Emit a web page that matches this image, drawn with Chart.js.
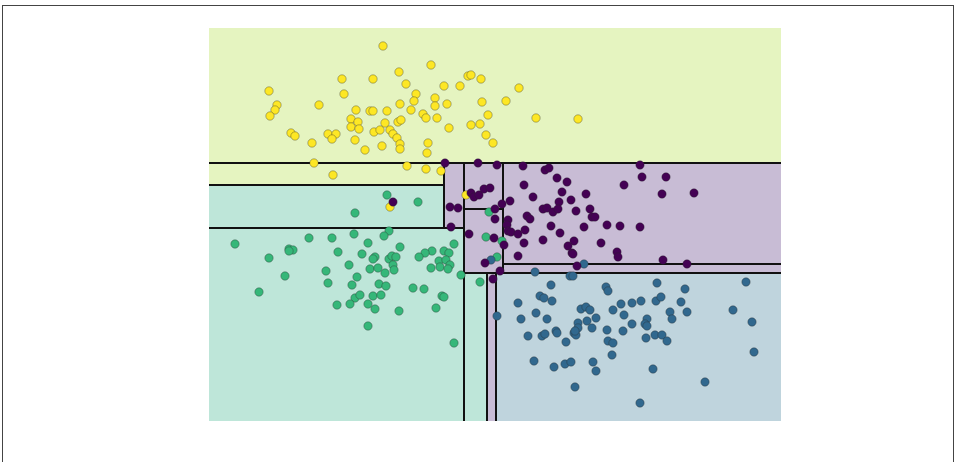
<!DOCTYPE html>
<html>
<head>
<meta charset="utf-8">
<script src="https://cdn.jsdelivr.net/npm/chart.js@4.4.1/dist/chart.umd.min.js"></script>
<style>
  html,body{margin:0;padding:0;background:#fff;}
  #wrap{position:relative;width:957px;height:462px;}
  #frame{position:absolute;left:2px;top:5px;width:952px;height:470px;border:1px solid #444;box-sizing:border-box;pointer-events:none;}
</style>
</head>
<body>
<div id="wrap">
  <canvas id="chart"></canvas>
  <div id="frame"></div>
</div>
<script>
// Feature space limits (arbitrary units)
const xRange = [0, 572];
const yRange = [0, 393];

// Four classes of points [x, y]
const class0 = [ // purple
  [236,258],[269,258],[262,228],[265,224],[270,226],[275,232],[281,233],[184,219],[241,214],[249,213],
  [242,194],[260,187],[276,158],[284,142],[285,183],[286,212],[286,202],
  [288,256],[314,255],[336,251],[340,253],[348,243],[358,239],[315,236],[415,236],[353,229],[377,227],
  [324,224],[301,220],[293,217],[350,219],[362,221],[334,212],[338,213],[344,209],[349,212],[367,210],
  [381,212],[383,204],[386,204],[318,205],[321,202],[299,201],[298,196],[299,190],[302,189],[309,187],
  [316,191],[342,195],[351,188],[375,194],[398,196],[411,195],[431,194],[295,176],[315,178],[334,181],
  [365,180],[359,175],[392,178],[363,168],[364,167],[408,169],[409,164],[309,165],[368,155],[291,150],
  [431,256],[433,244],[457,244],[453,227],[485,228],[454,161],[478,157]
];
const class1 = [ // blue
  [282,161],[375,157],[326,149],[361,145],[364,145],[342,136],[397,134],[399,130],[448,138],[476,132],[537,139],
  [288,105],[309,118],[331,125],[335,123],[343,120],[312,102],[327,108],[338,102],[372,112],[377,114],
  [381,111],[404,111],[412,117],[423,118],[415,106],[387,103],[378,100],[369,98],[369,93],[383,93],
  [319,85],[333,85],[336,87],[347,90],[348,88],[365,88],[367,86],[366,90],[357,79],[398,91],[399,80],
  [404,78],[414,90],[423,97],[403,66],[325,60],[345,54],[356,57],[362,59],[384,59],[387,50],[366,34],
  [432,120],[447,120],[452,124],[472,119],[461,109],[478,109],[463,102],[438,102],[436,97],[438,95],
  [437,83],[446,86],[453,86],[458,80],[524,111],[543,99],[545,69],[444,52],[496,39],[431,18]
];
const class2 = [ // green
  [146,208],[26,177],[80,172],[84,171],[80,170],[100,183],[123,183],[145,187],[60,163],[129,169],
  [140,156],[117,150],[76,145],[119,138],[143,136],[50,129],
  [178,226],[209,219],[280,209],[277,184],[180,190],[175,185],[159,178],[191,174],[245,177],[235,170],
  [240,168],[223,170],[216,168],[210,164],[153,167],[166,164],[164,162],[180,162],[183,165],[187,164],
  [184,156],[185,151],[230,160],[231,154],[237,161],[241,156],[239,152],[222,153],[161,152],[169,153],
  [176,148],[148,144],[252,146],[170,137],[177,135],[204,133],[215,132],[271,139],[293,180],[288,164],
  [146,123],[151,126],[164,125],[172,126],[141,117],[128,116],[159,117],[166,112],[190,110],[233,125],
  [235,124],[227,113],[159,95],[245,78]
];
const class3 = [ // yellow
  [60,330],[133,342],[135,327],[68,316],[66,311],[61,305],[110,316],[142,302],[142,294],[82,288],
  [86,285],[103,278],[119,287],[127,287],[123,282],[105,258],[124,246],
  [174,375],[222,356],[190,349],[164,342],[197,337],[235,335],[251,335],[259,345],[262,346],[272,342],
  [207,327],[205,320],[226,323],[226,315],[238,317],[191,317],[273,319],[147,311],[161,310],[164,310],
  [178,310],[202,311],[214,307],[217,303],[228,303],[279,306],[149,299],[150,292],[189,299],[192,301],
  [176,298],[165,289],[171,291],[181,291],[184,287],[188,283],[191,277],[191,272],[146,281],[156,271],
  [173,275],[240,293],[262,296],[271,297],[277,286],[284,278],[219,278],[218,268],
  [310,333],[297,320],[327,303],[369,302],
  [198,255],[217,252],[232,250],[257,226],[181,214]
];

// Decision tree leaves: [x0, x1, y0, y1, class]
const leaves = [
  [0,572,258,393,3],[0,235,236,258,3],[0,235,193,236,2],[235,255,193,258,0],[0,255,0,193,2],
  [255,294,212,258,0],[255,294,148,212,0],[294,572,157,258,0],[294,572,148,157,0],
  [255,278,0,148,2],[278,287,0,148,0],[287,572,0,148,1]
];
// Split lines: [x0, y0, x1, y1]
const splits = [
  [0,258,572,258],[0,236,235,236],[235,193,235,258],[0,193,255,193],[255,0,255,258],
  [255,212,294,212],[294,148,294,258],[294,157,572,157],[255,148,572,148],[278,0,278,148],[287,0,287,148]
];

const pointColors = ['#440154','#31688e','#35b779','#fde725'];
const leafColors = ['rgb(200,188,213)','rgb(191,212,221)','rgb(190,230,217)','rgb(229,244,192)'];

const treePlugin = {
  id: 'tree',
  beforeDatasetsDraw(chart){
    const {ctx, scales:{x, y}} = chart;
    ctx.save();
    leaves.forEach(([x0,x1,y0,y1,c]) => {
      const l = x.getPixelForValue(x0), r = x.getPixelForValue(x1);
      const t = y.getPixelForValue(y1), b = y.getPixelForValue(y0);
      ctx.fillStyle = leafColors[c];
      ctx.fillRect(l, t, r - l, b - t);
    });
    ctx.strokeStyle = '#111';
    ctx.lineWidth = 2;
    splits.forEach(([x0,y0,x1,y1]) => {
      ctx.beginPath();
      ctx.moveTo(x.getPixelForValue(x0), y.getPixelForValue(y0));
      ctx.lineTo(x.getPixelForValue(x1), y.getPixelForValue(y1));
      ctx.stroke();
    });
    ctx.restore();
  }
};

const mkSet = (pts, c) => ({
  data: pts.map(p => ({x:p[0], y:p[1]})),
  backgroundColor: pointColors[c],
  borderColor: 'rgba(40,40,40,0.45)',
  borderWidth: 0.8,
  pointRadius: 4.2,
  pointHoverRadius: 4.2
});

new Chart(document.getElementById('chart'), {
  type: 'scatter',
  data: { datasets: [mkSet(class0,0), mkSet(class1,1), mkSet(class2,2), mkSet(class3,3)] },
  options: {
    responsive: true,
    maintainAspectRatio: false,
    animation: false,
    layout: { padding: { left:209, right:176, top:28, bottom:41 } },
    plugins: { legend:{ display:false }, tooltip:{ enabled:false } },
    scales: {
      x: { type:'linear', min:xRange[0], max:xRange[1], display:false },
      y: { type:'linear', min:yRange[0], max:yRange[1], display:false }
    }
  },
  plugins: [treePlugin]
});
</script>
</body>
</html>
